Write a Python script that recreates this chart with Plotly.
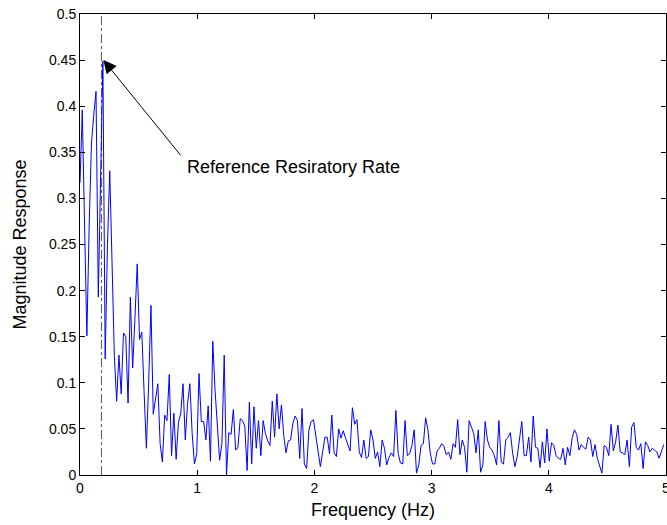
import plotly.graph_objects as go

df = 10.0 / 512.0
magnitude = [
    0.317, 0.396, 0.27, 0.151, 0.27, 0.36, 0.39, 0.416, 0.193, 0.32,
    0.449, 0.126, 0.25, 0.330, 0.22, 0.13, 0.080, 0.130, 0.088, 0.154,
    0.150, 0.078, 0.193, 0.116, 0.17, 0.229, 0.147, 0.155, 0.09, 0.029,
    0.10, 0.184, 0.066, 0.083, 0.099, 0.034, 0.014, 0.065, 0.059, 0.109,
    0.021, 0.067, 0.017, 0.057, 0.067, 0.099, 0.038, 0.078, 0.099, 0.045,
    0.012, 0.023, 0.110, 0.058, 0.058, 0.038, 0.075, 0.015, 0.145, 0.092,
    0.059, 0.016, 0.034, 0.130, 0.0, 0.046, 0.044, 0.071, 0.027, 0.030,
    0.061, 0.059, 0.053, 0.005, 0.079, 0.012, 0.074, 0.029, 0.059, 0.021,
    0.059, 0.045, 0.037, 0.032, 0.080, 0.041, 0.088, 0.050, 0.076, 0.043,
    0.024, 0.037, 0.038, 0.056, 0.064, 0.059, 0.018, 0.072, 0.012, 0.007,
    0.049, 0.058, 0.060, 0.043, 0.025, 0.009, 0.025, 0.041, 0.041, 0.023,
    0.065, 0.024, 0.020, 0.050, 0.040, 0.048, 0.040, 0.032, 0.026, 0.073,
    0.055, 0.060, 0.025, 0.019, 0.038, 0.018, 0.020, 0.049, 0.038, 0.018,
    0.025, 0.009, 0.038, 0.029, 0.011, 0.019, 0.024, 0.020, 0.070, 0.023,
    0.013, 0.012, 0.059, 0.021, 0.023, 0.032, 0.049, 0.002, 0.011, 0.032,
    0.034, 0.062, 0.049, 0.024, 0.012, 0.012, 0.026, 0.029, 0.034, 0.031,
    0.022, 0.025, 0.017, 0.034, 0.030, 0.060, 0.022, 0.038, 0.030, 0.003,
    0.059, 0.052, 0.045, 0.024, 0.049, 0.003, 0.011, 0.058, 0.038, 0.030,
    0.027, 0.021, 0.011, 0.059, 0.014, 0.012, 0.038, 0.041, 0.046, 0.024,
    0.009, 0.020, 0.038, 0.058, 0.021, 0.021, 0.041, 0.014, 0.064, 0.030,
    0.029, 0.008, 0.036, 0.013, 0.050, 0.015, 0.035, 0.032, 0.021, 0.018,
    0.017, 0.029, 0.011, 0.030, 0.021, 0.040, 0.049, 0.044, 0.027, 0.033,
    0.030, 0.028, 0.041, 0.038, 0.020, 0.033, 0.018, 0.009, 0.002, 0.032,
    0.030, 0.021, 0.055, 0.026, 0.036, 0.054, 0.025, 0.024, 0.022, 0.038,
    0.009, 0.052, 0.057, 0.030, 0.027, 0.034, 0.007, 0.036, 0.032, 0.025,
    0.029, 0.027, 0.025, 0.018, 0.027, 0.033,
]
frequency = [i * df for i in range(len(magnitude))]

ref_rate = 0.183
peak_x = 0.2
peak_y = 0.45
label_text = "Reference Resiratory Rate"
x_title = "Frequency (Hz)"
y_title = "Magnitude Response"
x_ticks = [0, 1, 2, 3, 4, 5]
y_ticks = [0, 0.05, 0.1, 0.15, 0.2, 0.25, 0.3, 0.35, 0.4, 0.45, 0.5]
y_tick_text = ["0", "0.05", "0.1", "0.15", "0.2", "0.25", "0.3",
               "0.35", "0.4", "0.45", "0.5"]
x_range = [0, 5]
y_range = [0, 0.5]

font_family = "Liberation Sans, Arial, Helvetica, sans-serif"

fig = go.Figure()
fig.add_trace(go.Scatter(
    x=[ref_rate, ref_rate], y=y_range, mode="lines",
    line=dict(color="#555555", width=1, dash="dashdot"),
    hoverinfo="skip", showlegend=False,
))
fig.add_trace(go.Scatter(
    x=frequency, y=magnitude, mode="lines",
    line=dict(color="#0000FF", width=1),
    showlegend=False,
))

fig.add_annotation(
    x=peak_x, y=peak_y, xref="x", yref="y",
    ax=0.87, ay=0.345, axref="x", ayref="y",
    text="", showarrow=True, arrowhead=2, arrowsize=2.6, arrowwidth=1,
    arrowcolor="black",
)
fig.add_annotation(
    x=0.9, y=0.334, xref="x", yref="y", text=label_text,
    showarrow=False, xanchor="left", yanchor="middle",
    font=dict(family=font_family, size=18, color="black"),
)
fig.add_annotation(
    x=-0.1024, y=0.5, xref="paper", yref="paper", text=y_title,
    textangle=-90, showarrow=False, xanchor="center", yanchor="middle",
    font=dict(family=font_family, size=18, color="black"),
)

tick_font = dict(family=font_family, size=14, color="black")
axis_common = dict(
    automargin=False, showgrid=False, zeroline=False, showline=True,
    linecolor="black", linewidth=1, mirror="ticks", ticks="inside",
    ticklen=5, tickcolor="black", tickwidth=1, tickfont=tick_font,
)

fig.update_layout(
    width=667, height=525,
    margin=dict(l=80, r=1, t=14, b=50),
    paper_bgcolor="white", plot_bgcolor="white",
    font=dict(family=font_family, size=14, color="black"),
    xaxis=dict(range=x_range, tickvals=x_ticks,
               ticktext=[str(v) for v in x_ticks],
               ticklabeloverflow="allow",
               title=dict(text=x_title, standoff=8,
                          font=dict(family=font_family, size=18)),
               **axis_common),
    yaxis=dict(range=y_range, tickvals=y_ticks, ticktext=y_tick_text,
               **axis_common),
)

fig.write_html("out.html")
